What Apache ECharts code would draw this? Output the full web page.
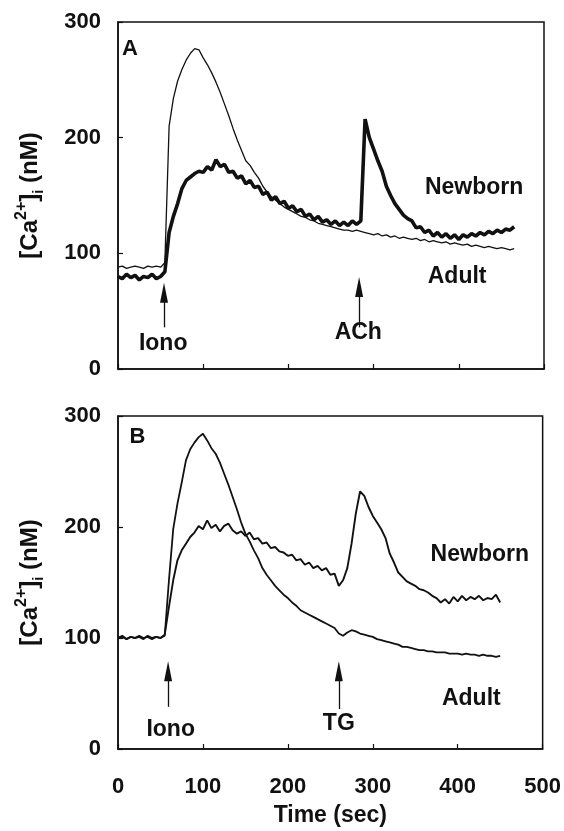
<!DOCTYPE html>
<html>
<head>
<meta charset="utf-8">
<script src="https://cdn.jsdelivr.net/npm/echarts@6/dist/echarts.min.js"></script>
<style>
  html, body { margin: 0; padding: 0; background: #fff; }
  #chart { width: 564px; height: 831px; }
</style>
</head>
<body>
<div id="chart"></div>
<script>
// time points (sec)
var timeA = [];
for (var i = 0; i <= 465; i += 5) timeA.push(i);
var timeB = [];
for (var j = 0; j <= 450; j += 5) timeB.push(j);

// panel A, [Ca2+]i (nM)
var adultA = [88, 89, 87, 88, 89, 88, 87, 89, 88, 89, 88, 92, 210, 234, 249, 259, 267, 273, 277, 276,
  269, 263, 256, 248, 239, 229, 219, 208, 198, 189, 180, 176, 170, 165, 158, 153, 149, 146, 143, 140,
  138, 136, 134, 132, 131, 129, 128, 126, 125, 124, 123, 122, 121, 120, 120, 119, 120, 119, 118, 117,
  116, 117, 115, 116, 114, 115, 113, 114, 113, 112, 113, 111, 112, 110, 111, 110, 109, 110, 108, 109,
  108, 107, 108, 106, 107, 106, 105, 106, 105, 104, 105, 104, 103, 104];
var newbornA = [80, 78, 82, 79, 81, 77, 80, 79, 82, 78, 80, 84, 118, 132, 143, 156, 163, 166, 169, 171,
  170, 175, 172, 181, 175, 177, 170, 171, 165, 167, 160, 163, 157, 158, 151, 153, 146, 149, 143, 145,
  139, 141, 136, 138, 132, 134, 129, 132, 127, 129, 125, 128, 124, 127, 124, 128, 125, 128, 216, 200,
  190, 180, 171, 158, 150, 143, 138, 133, 130, 128, 122, 123, 118, 120, 115, 118, 114, 117, 113, 116,
  112, 116, 114, 117, 115, 118, 116, 119, 117, 120, 118, 121, 120, 123];

// panel B
var adultB = [100, 101, 99, 101, 100, 102, 100, 101, 99, 101, 100, 102, 152, 198, 221, 240, 260, 270, 276, 281,
  284, 278, 271, 266, 258, 248, 238, 227, 216, 204, 194, 187, 179, 172, 163, 157, 152, 147, 143, 139,
  136, 132, 129, 125, 123, 121, 119, 117, 115, 113, 111, 109, 104, 102, 105, 107, 106, 104, 103, 102,
  101, 99, 98, 97, 96, 95, 94, 92, 92, 91, 90, 89, 89, 88, 88, 87, 87, 87, 86, 86,
  86, 85, 86, 85, 85, 84, 85, 84, 84, 83, 84];
var newbornB = [100, 102, 99, 101, 100, 101, 99, 102, 100, 101, 100, 103, 128, 152, 170, 179, 185, 191, 195, 201,
  198, 206, 199, 202, 196, 201, 203, 197, 194, 196, 192, 195, 189, 190, 185, 186, 181, 182, 178, 177,
  174, 175, 170, 171, 166, 168, 163, 165, 161, 163, 157, 158, 147, 152, 163, 185, 212, 232, 228, 218,
  210, 204, 198, 190, 176, 168, 159, 155, 151, 149, 147, 144, 143, 141, 138, 136, 132, 135, 131, 137,
  133, 138, 134, 137, 135, 138, 134, 136, 135, 139, 132];

var xTicks = [0, 100, 200, 300, 400, 500];
var yTicks = [0, 100, 200, 300];

function pairs(t, v) {
  return t.map(function (x, k) { return [x, v[k]]; });
}

var font = 'Liberation Sans, Arial, sans-serif';

function arrow(t, v0, v1) {
  return [{ coord: [t, v0] }, { coord: [t, v1] }];
}
function note(text, t, v, size) {
  return {
    coord: [t, v], symbol: 'circle', symbolSize: 0,
    label: { show: true, position: 'inside', formatter: text, fontFamily: font,
      fontSize: size || 23, fontWeight: 'bold', color: '#111' }
  };
}

var yName = '{a|[Ca}{sup|2+}{a|]}{sub|i}{a| (nM)}';
var yNameStyle = {
  rich: {
    a: { fontFamily: font, fontSize: 24, fontWeight: 'bold', color: '#111', lineHeight: 32 },
    sup: { fontFamily: font, fontSize: 16, fontWeight: 'bold', color: '#111', verticalAlign: 'top', lineHeight: 32 },
    sub: { fontFamily: font, fontSize: 15, fontWeight: 'bold', color: '#111', verticalAlign: 'bottom', lineHeight: 22 }
  }
};

function xAxis(idx, showLabels) {
  return {
    type: 'value', gridIndex: idx, min: xTicks[0], max: xTicks[xTicks.length - 1], interval: 100,
    axisLine: { show: true, lineStyle: { color: '#111', width: 1.5 } },
    axisTick: { show: true, inside: true, length: 5, lineStyle: { color: '#111', width: 1.2 } },
    axisLabel: { show: showLabels, margin: 27, fontFamily: font, fontSize: 22, fontWeight: 'bold', color: '#111' },
    splitLine: { show: false },
    name: showLabels ? 'Time (sec)' : '', nameLocation: 'middle', nameGap: 55,
    nameTextStyle: { fontFamily: font, fontSize: 23, fontWeight: 'bold', color: '#111' }
  };
}
function yAxis(idx) {
  return {
    type: 'value', gridIndex: idx, min: yTicks[0], max: yTicks[yTicks.length - 1], interval: 100,
    axisLine: { show: true, lineStyle: { color: '#111', width: 1.5 } },
    axisTick: { show: true, inside: true, length: 5, lineStyle: { color: '#111', width: 1.2 } },
    axisLabel: { margin: 17, fontFamily: font, fontSize: 22, fontWeight: 'bold', color: '#111' },
    splitLine: { show: false },
    name: yName, nameLocation: 'middle', nameGap: 72, nameRotate: 90,
    nameTextStyle: yNameStyle
  };
}

var arrowLine = {
  silent: true, symbol: ['none', 'triangle'], symbolSize: [8, 20],
  lineStyle: { color: '#111', width: 1.3, type: 'solid' },
  label: { show: false }
};

var chart = echarts.init(document.getElementById('chart'));
chart.setOption({
  animation: false,
  backgroundColor: '#fff',
  grid: [
    { left: 118, right: 20, top: 22, height: 347, show: true, borderColor: '#111', borderWidth: 1.5 },
    { left: 118, right: 20, top: 416, height: 333, show: true, borderColor: '#111', borderWidth: 1.5 }
  ],
  xAxis: [xAxis(0, false), xAxis(1, true)],
  yAxis: [yAxis(0), yAxis(1)],
  series: [
    {
      name: 'Adult A', type: 'line', xAxisIndex: 0, yAxisIndex: 0, showSymbol: false,
      data: pairs(timeA, adultA), lineStyle: { color: '#111', width: 1.3 },
      markLine: Object.assign({ data: [arrow(54, 36, 66), arrow(283, 36, 71)] }, arrowLine),
      markPoint: { data: [note('A', 14, 277, 22), note('Iono', 53, 22), note('ACh', 282, 31),
        note('Newborn', 418, 157), note('Adult', 398, 80)] }
    },
    {
      name: 'Newborn A', type: 'line', xAxisIndex: 0, yAxisIndex: 0, showSymbol: false,
      data: pairs(timeA, newbornA), lineStyle: { color: '#111', width: 3.6 }
    },
    {
      name: 'Adult B', type: 'line', xAxisIndex: 1, yAxisIndex: 1, showSymbol: false,
      data: pairs(timeB, adultB), lineStyle: { color: '#111', width: 1.8 },
      markLine: Object.assign({ data: [arrow(59, 38, 70), arrow(260, 36, 70)] }, arrowLine),
      markPoint: { data: [note('B', 23, 281, 22), note('Iono', 62, 17), note('TG', 260, 23),
        note('Newborn', 426, 175), note('Adult', 416, 45)] }
    },
    {
      name: 'Newborn B', type: 'line', xAxisIndex: 1, yAxisIndex: 1, showSymbol: false,
      data: pairs(timeB, newbornB), lineStyle: { color: '#111', width: 1.9 }
    }
  ]
});
</script>
</body>
</html>
